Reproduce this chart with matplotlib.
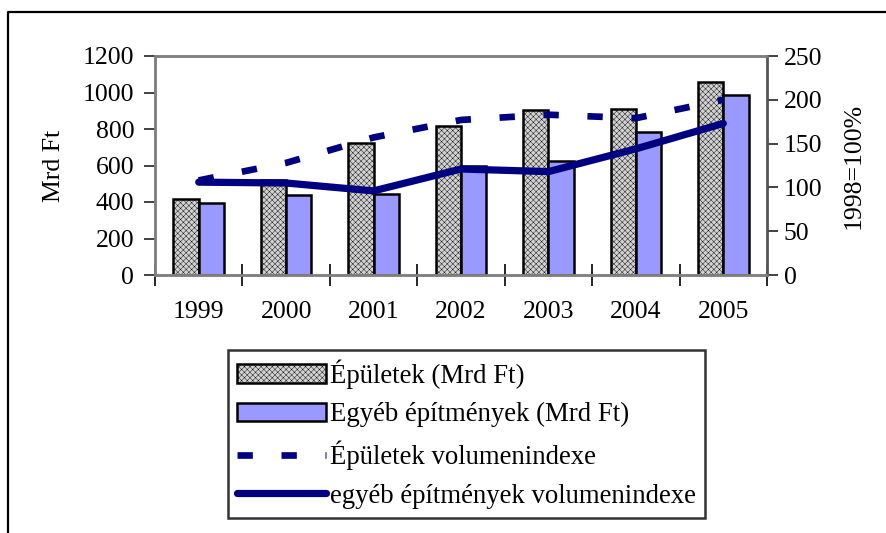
import matplotlib
matplotlib.use("Agg")
import matplotlib.pyplot as plt
import numpy as np
from matplotlib.lines import Line2D
from matplotlib.patches import Patch

years = ["1999", "2000", "2001", "2002", "2003", "2004", "2005"]
epuletek = [415, 520, 722, 816, 904, 908, 1059]
egyeb = [393, 438, 444, 595, 626, 782, 986]
epuletek_index = [108, 128, 157, 177, 183, 179, 200]
egyeb_index = [106, 105, 96, 121, 118, 144, 173]

plt.rcParams['font.family'] = ['Liberation Serif', 'DejaVu Serif']
plt.rcParams['hatch.linewidth'] = 0.3
plt.rcParams['hatch.color'] = '#a0a0a0'

W, H = 887, 533
fig = plt.figure(figsize=(W / 100, H / 100), dpi=100)

# outer frame (extends past right and bottom edges)
fig.add_artist(Line2D([8 / W, 8 / W, 1.01], [-0.01, 1 - 12 / H, 1 - 12 / H],
                      transform=fig.transFigure, color='black', lw=1.6))

left, right, bottom, top = 155, 767, 275, 56
ax = fig.add_axes([left / W, 1 - bottom / H, (right - left) / W, (bottom - top) / H])
x = np.arange(len(years))
w = 0.29
fs = 18.5
gray_face = '#d2d2d2'
hatch = 'xxxxxx'
ax.bar(x - w / 2, epuletek, w, facecolor=gray_face, edgecolor='black', lw=1.8,
       hatch=hatch, zorder=2)
ax.bar(x + w / 2, egyeb, w, facecolor='#9999FF', edgecolor='black', lw=1.8, zorder=2)
ax.set_xlim(-0.5, 6.5)
ax.set_ylim(0, 1200)
ax.set_yticks(range(0, 1201, 200))
ax.set_xticks(x)
ax.set_xticklabels(years, fontsize=fs)
ax.set_xticks(np.arange(-0.5, 7, 1), minor=True)
ax.tick_params(axis='x', which='major', length=0, pad=19)
ax.tick_params(axis='x', which='minor', direction='inout', length=16, width=1.2, color='black')
ax.tick_params(axis='y', direction='out', length=8, width=1.2, labelsize=fs, pad=7, color='#222222')
for s in ax.spines.values():
    s.set_color('#808080')
    s.set_linewidth(1.8)
ax.set_ylabel('Mrd Ft', fontsize=fs, labelpad=13)

ax2 = ax.twinx()
ax2.set_ylim(0, 250)
ax2.set_yticks(range(0, 251, 50))
ax2.plot(x, epuletek_index, color='#000080', lw=4.8, linestyle=(0, (2.3, 4.3)),
         solid_capstyle='butt', dash_capstyle='butt')
ax2.plot(x, egyeb_index, color='#000080', lw=5.2, solid_capstyle='round',
         solid_joinstyle='round')
ax2.tick_params(axis='y', direction='out', length=8, width=1.2, labelsize=fs, pad=4, color='#222222')
for s in ax2.spines.values():
    s.set_color('#808080')
    s.set_linewidth(1.8)
ax2.spines['right'].set_color('#555555')
ax2.set_ylabel('1998=100%', fontsize=fs, labelpad=15)

handles = [
    Patch(facecolor=gray_face, edgecolor='black', lw=1.8, hatch=hatch),
    Patch(facecolor='#9999FF', edgecolor='black', lw=1.8),
    Line2D([], [], color='#000080', lw=4.8, linestyle=(0, (2.3, 4.3)), dash_capstyle='butt'),
    Line2D([], [], color='#000080', lw=5.2, solid_capstyle='round'),
]
labels = ['Épületek (Mrd Ft)', 'Egyéb építmények (Mrd Ft)',
          'Épületek volumenindexe', 'egyéb építmények volumenindexe']
leg = fig.legend(handles, labels, loc='upper left', bbox_to_anchor=(228 / W, 1 - 350 / H),
                 borderaxespad=0, fontsize=19.3, frameon=True, fancybox=False,
                 edgecolor='black', handlelength=3.3, handleheight=0.7,
                 handletextpad=0.15, labelspacing=0.5, borderpad=0.35)
leg.get_frame().set_linewidth(1.8)

fig.savefig('out.png', dpi=100)
